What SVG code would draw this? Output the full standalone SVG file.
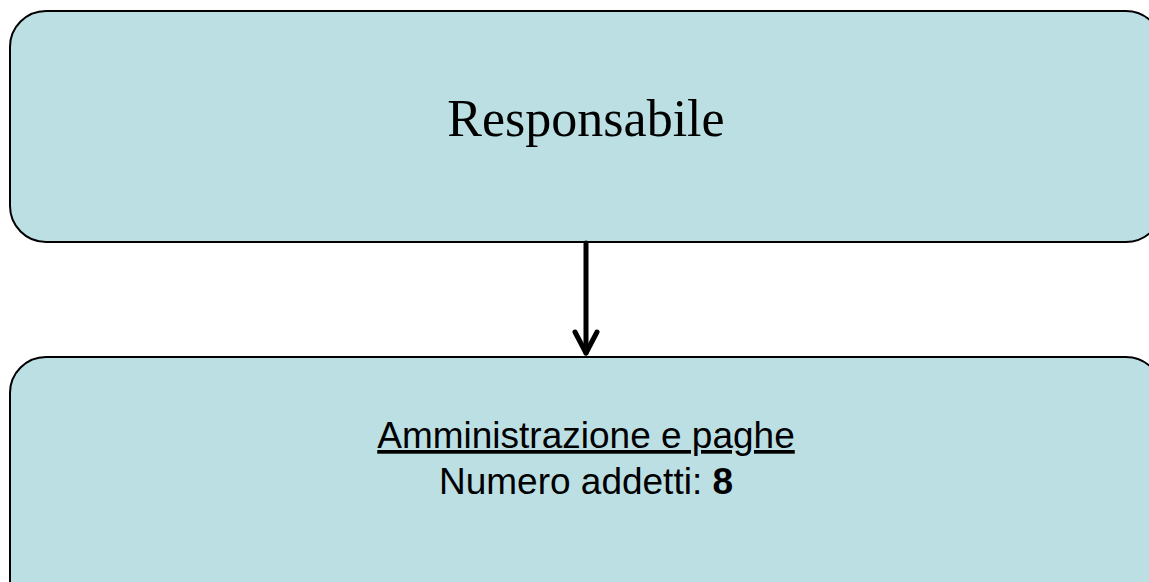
<svg xmlns="http://www.w3.org/2000/svg" width="1149" height="582" viewBox="0 0 1149 582">
<style>
.box{fill:#bbdfe3;stroke:#000;stroke-width:2}
.t1{font-family:"Liberation Serif","Times New Roman",serif;font-size:52px;fill:#000}
.t2{font-family:"Liberation Sans",Arial,sans-serif;font-size:37px;fill:#000}
.conn{stroke:#000;stroke-width:5;fill:none;stroke-linecap:round;stroke-linejoin:round}
</style>
<rect width="1149" height="582" fill="#fff"/>
<g id="node-responsabile">
<rect class="box" x="10" y="11" width="1152" height="231" rx="36" ry="36"/>
<text class="t1" x="586" y="136" text-anchor="middle">Responsabile</text>
</g>
<g id="node-amministrazione">
<rect class="box" x="10" y="357" width="1152" height="260" rx="36" ry="36"/>
<text class="t2" x="586" y="448" text-anchor="middle" text-decoration="underline">Amministrazione e paghe</text>
<text class="t2" x="586" y="494" text-anchor="middle">Numero addetti: <tspan font-weight="bold">8</tspan></text>
</g>
<g id="connectors">
<line class="conn" x1="586" y1="243" x2="586" y2="353"/>
<polyline class="conn" points="575,332 586,353 597,332"/>
</g>
</svg>
